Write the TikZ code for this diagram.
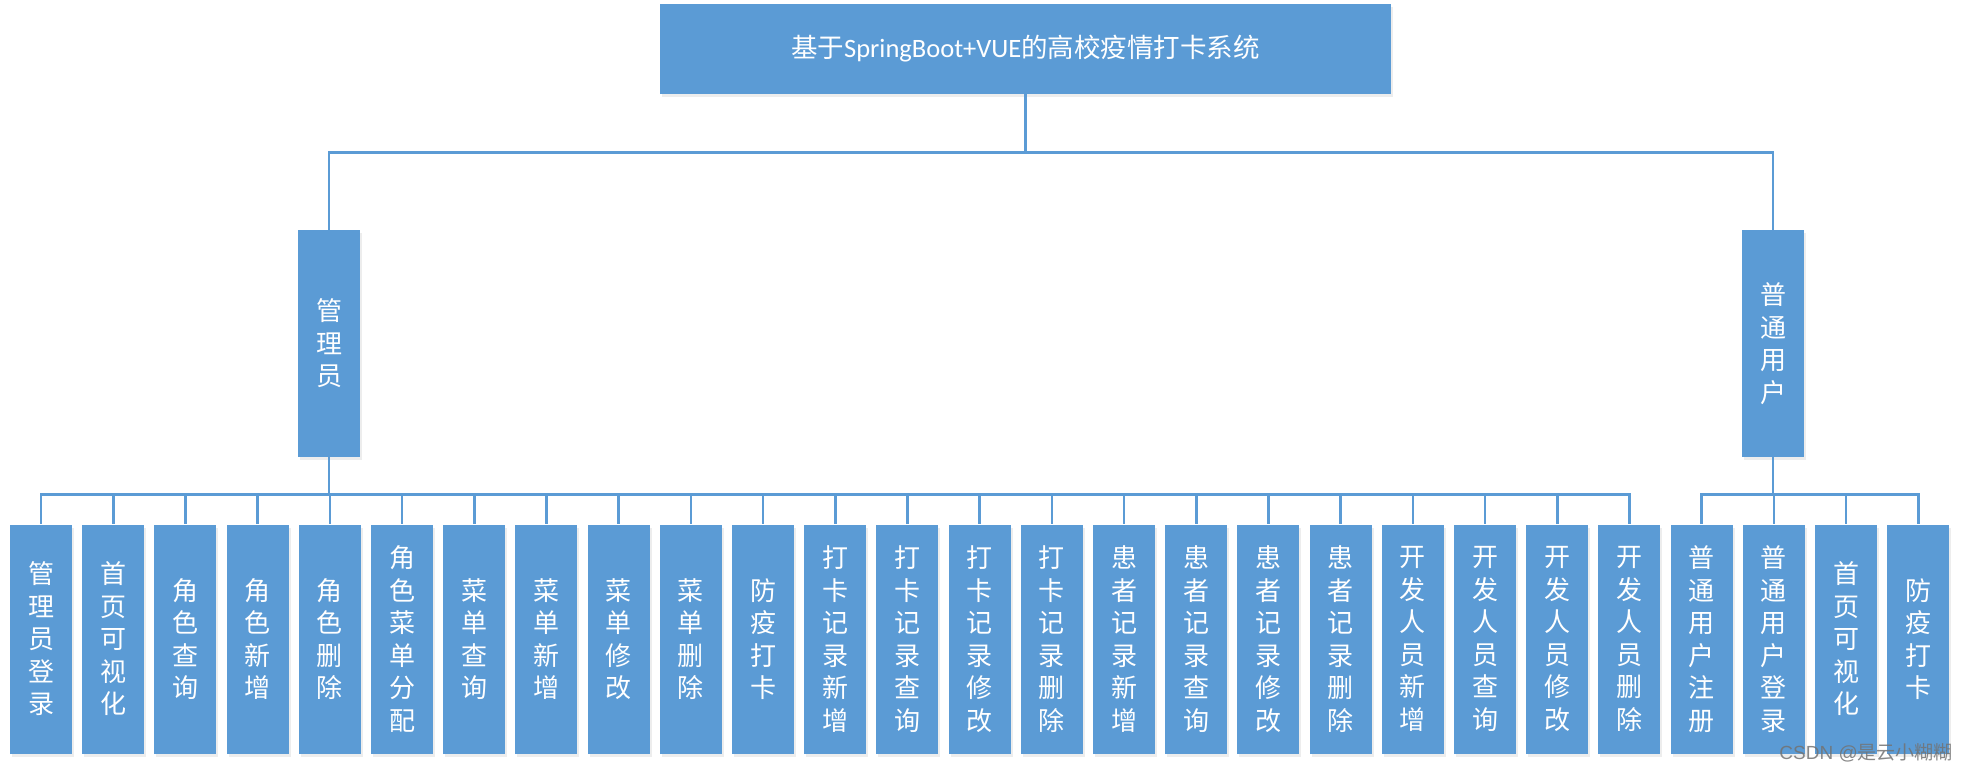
\documentclass[tikz,border=0pt]{standalone}
\usepackage{fontspec}
\setmainfont{Carlito}
\newfontfamily\cjk{Noto Sans CJK SC}
\newfontfamily\wmfont{Liberation Sans}
\usetikzlibrary{shadows}
\definecolor{boxblue}{HTML}{5B9BD5}
\begin{document}
\begin{tikzpicture}[x=1pt,y=-1pt,
  box/.style={fill=boxblue, draw=none, text=white, inner sep=0pt,
    drop shadow={opacity=0.14, shadow xshift=2pt, shadow yshift=-3pt}},
  leaf/.style={box, minimum width=62pt, minimum height=229pt, align=center,
    font=\cjk\fontsize{26}{32.5}\selectfont},
  role/.style={box, minimum width=62pt, minimum height=227pt, align=center,
    font=\cjk\fontsize{26}{32.5}\selectfont},
  titlebox/.style={box, minimum width=731pt, minimum height=90pt,
    font=\fontsize{26.5}{30}\selectfont},
  link/.style={draw=boxblue, line width=2.6pt}
]
\path[fill=white] (0,0) rectangle (1968,774);
\useasboundingbox (0,0) rectangle (1968,774);

\node[titlebox] (top) at (1025.5,49) {{\cjk 基于}SpringBoot+VUE{\cjk 的高校疫情打卡系统}};
\node[role] (adm) at (329,343.5) {管\\理\\员};
\node[role] (usr) at (1773,343.5) {普\\通\\用\\户};

\foreach \t [count=\i from 0] in {
  {管\\理\\员\\登\\录}, {首\\页\\可\\视\\化}, {角\\色\\查\\询}, {角\\色\\新\\增},
  {角\\色\\删\\除}, {角\\色\\菜\\单\\分\\配}, {菜\\单\\查\\询}, {菜\\单\\新\\增},
  {菜\\单\\修\\改}, {菜\\单\\删\\除}, {防\\疫\\打\\卡}, {打\\卡\\记\\录\\新\\增},
  {打\\卡\\记\\录\\查\\询}, {打\\卡\\记\\录\\修\\改}, {打\\卡\\记\\录\\删\\除},
  {患\\者\\记\\录\\新\\增}, {患\\者\\记\\录\\查\\询}, {患\\者\\记\\录\\修\\改},
  {患\\者\\记\\录\\删\\除}, {开\\发\\人\\员\\新\\增}, {开\\发\\人\\员\\查\\询},
  {开\\发\\人\\员\\修\\改}, {开\\发\\人\\员\\删\\除}, {普\\通\\用\\户\\注\\册},
  {普\\通\\用\\户\\登\\录}, {首\\页\\可\\视\\化}, {防\\疫\\打\\卡}}
{
  \node[leaf] (c\i) at ({41+72.2*\i},639) {\t};
}

\draw[link] (top.south) -- ++(0,58) -| (adm.north);
\draw[link] (top.south) -- ++(0,58) -| (usr.north);
\foreach \i in {0,...,22} {
  \draw[link] (adm.south) -- ++(0,37) -| (c\i.north);
}
\foreach \i in {23,...,26} {
  \draw[link] (usr.south) -- ++(0,37) -| (c\i.north);
}

\node[anchor=east, text=black!55, opacity=0.85, inner sep=0pt,
  font=\wmfont\fontsize{19}{19}\selectfont] (wm) at (1953,753) {CSDN @{\cjk 是云小糊糊}};
\end{tikzpicture}
\end{document}
